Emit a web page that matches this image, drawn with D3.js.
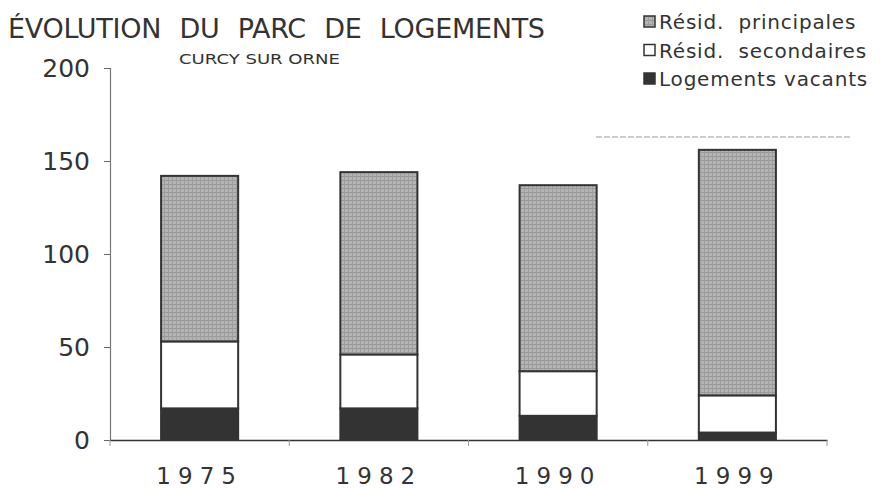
<!DOCTYPE html>
<html>
<head>
<meta charset="utf-8">
<script src="https://cdn.jsdelivr.net/npm/d3@7"></script>
<style>
  body { margin: 0; background: #fff; }
  svg { display: block; }
  text { font-family: "DejaVu Sans", sans-serif; fill: #333; }
</style>
</head>
<body>
<svg width="888" height="489"></svg>
<script>
const years = ["1975", "1982", "1990", "1999"];
const vacants = [17, 17, 13, 4];
const secondaires = [36, 29, 24, 20];
const principales = [89, 98, 100, 132];
const yTicks = [0, 50, 100, 150, 200];
const seriesNames = ["Résid.  principales", "Résid.  secondaires", "Logements vacants"];

const svg = d3.select("svg");

// fine grey stipple for the main series
const defs = svg.append("defs");
const pat = defs.append("pattern")
    .attr("id", "grain")
    .attr("width", 4).attr("height", 4)
    .attr("patternUnits", "userSpaceOnUse");
pat.append("rect").attr("width", 4).attr("height", 4).attr("fill", "#b4b4b4");
pat.append("rect").attr("width", 4).attr("height", 1).attr("fill", "#999");
pat.append("rect").attr("width", 1).attr("height", 4).attr("fill", "#9e9e9e");

const x = d3.scaleBand().domain(years).range([110, 827]).padding(0);
const y = d3.scaleLinear().domain([0, 200]).range([440, 68]);
const barW = x.bandwidth() * 0.43;

const rows = years.map((yr, i) => ({
    year: yr,
    vacants: vacants[i],
    secondaires: secondaires[i],
    principales: principales[i]
}));
const stack = d3.stack().keys(["vacants", "secondaires", "principales"]);
const layers = stack(rows);
const fills = { vacants: "#333", secondaires: "#fff", principales: "url(#grain)" };

// title
svg.append("text")
    .attr("x", 8).attr("y", 38)
    .attr("font-size", 27)
    .attr("font-family", "DejaVu Sans Condensed, DejaVu Sans, sans-serif")
    .attr("word-spacing", 10)
    .attr("textLength", 537)
    .attr("lengthAdjust", "spacing")
    .text("ÉVOLUTION DU PARC DE LOGEMENTS");

svg.append("text")
    .attr("x", 179).attr("y", 64)
    .attr("font-size", 14)
    .attr("textLength", 161)
    .attr("lengthAdjust", "spacingAndGlyphs")
    .text("CURCY SUR ORNE");

// y axis
const yAxis = svg.append("g")
    .attr("transform", "translate(110,0)")
    .call(d3.axisLeft(y).tickValues(yTicks).tickSize(6).tickPadding(14));
yAxis.select(".domain").attr("stroke", "#777").attr("stroke-width", 1.2);
yAxis.selectAll(".tick line").attr("stroke", "#666");
yAxis.selectAll(".tick text")
    .attr("font-size", 25)
    .attr("font-family", "DejaVu Sans, sans-serif")
    .attr("fill", "#444");

// bars
svg.append("g").selectAll("g")
    .data(layers)
    .join("g")
    .attr("fill", d => fills[d.key])
    .selectAll("rect")
    .data(d => d)
    .join("rect")
    .attr("x", d => x(d.data.year) + (x.bandwidth() - barW) / 2)
    .attr("width", barW)
    .attr("y", d => y(d[1]))
    .attr("height", d => y(d[0]) - y(d[1]))
    .attr("stroke", "#333")
    .attr("stroke-width", 2);

// x axis
const xAxis = svg.append("g")
    .attr("transform", "translate(0,440)")
    .call(d3.axisBottom(x).tickSize(0).tickPadding(28));
xAxis.select(".domain").attr("stroke", "#333").attr("stroke-width", 1.5);
xAxis.selectAll(".tick text")
    .attr("font-size", 23)
    .attr("font-family", "DejaVu Sans, sans-serif")
    .attr("letter-spacing", 7)
    .attr("fill", "#333");
// small separators between categories
svg.append("g").selectAll("line")
    .data(years.concat(["end"]))
    .join("line")
    .attr("x1", (d, i) => i < years.length ? x(d) : x.range()[1])
    .attr("x2", (d, i) => i < years.length ? x(d) : x.range()[1])
    .attr("y1", 440).attr("y2", 446)
    .attr("stroke", "#999");

// legend
const legend = svg.append("g").attr("transform", "translate(640,0)");
const legFills = ["url(#grain)", "#fff", "#333"];
seriesNames.forEach((name, i) => {
    const ly = 22 + i * 28.5;
    legend.append("rect")
        .attr("x", 4).attr("y", ly - 6)
        .attr("width", 11).attr("height", 11)
        .attr("fill", legFills[i])
        .attr("stroke", "#333")
        .attr("stroke-width", 1.5);
    legend.append("text")
        .attr("x", 19).attr("y", ly + 7)
        .attr("font-size", 20)
        .attr("letter-spacing", 0.8)
        .attr("xml:space", "preserve")
        .style("white-space", "pre")
        .attr("fill", "#333")
        .text(name);
});

// faint rule under the legend
svg.append("line")
    .attr("x1", 596).attr("x2", 850)
    .attr("y1", 137).attr("y2", 137)
    .attr("stroke", "#999")
    .attr("stroke-dasharray", "6,2");
</script>
</body>
</html>
